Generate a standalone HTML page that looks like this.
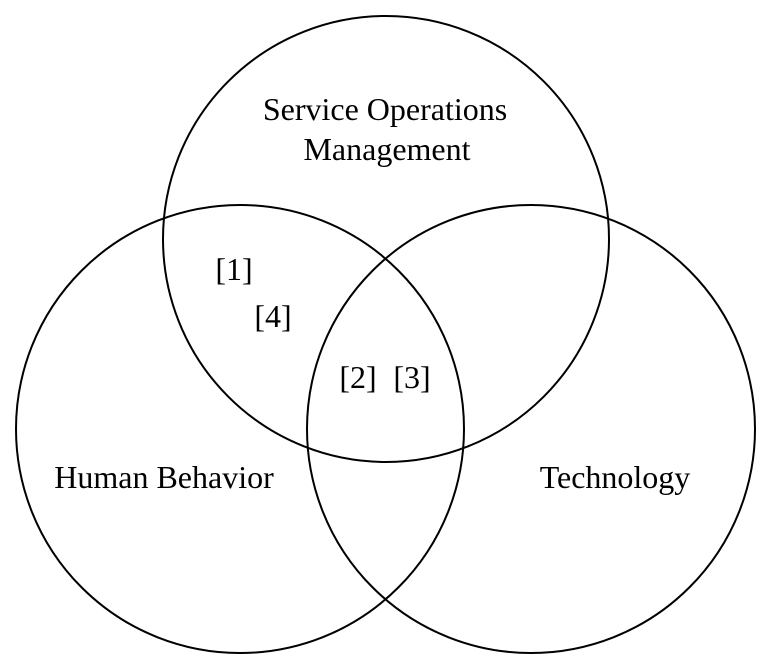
<!DOCTYPE html>
<html><head><meta charset="utf-8"><style>
html,body{margin:0;padding:0;background:#fff;}
svg{display:block;}
text{font-family:"Liberation Serif",serif;font-size:32px;fill:#000;}
</style></head><body>
<svg width="771" height="664" viewBox="0 0 771 664" xmlns="http://www.w3.org/2000/svg">
<g fill="none" stroke="#000" stroke-width="2">
<circle cx="386" cy="239" r="223"/>
<circle cx="240" cy="429" r="224"/>
<circle cx="531" cy="429" r="224"/>
</g>
<text x="385" y="120" text-anchor="middle">Service Operations</text>
<text x="387" y="160" text-anchor="middle">Management</text>
<text x="164" y="488" text-anchor="middle">Human Behavior</text>
<text x="615" y="488" text-anchor="middle">Technology</text>
<text x="234" y="280" text-anchor="middle">[1]</text>
<text x="273" y="327" text-anchor="middle">[4]</text>
<text x="358" y="388" text-anchor="middle">[2]</text>
<text x="412" y="388" text-anchor="middle">[3]</text>
</svg>
</body></html>
